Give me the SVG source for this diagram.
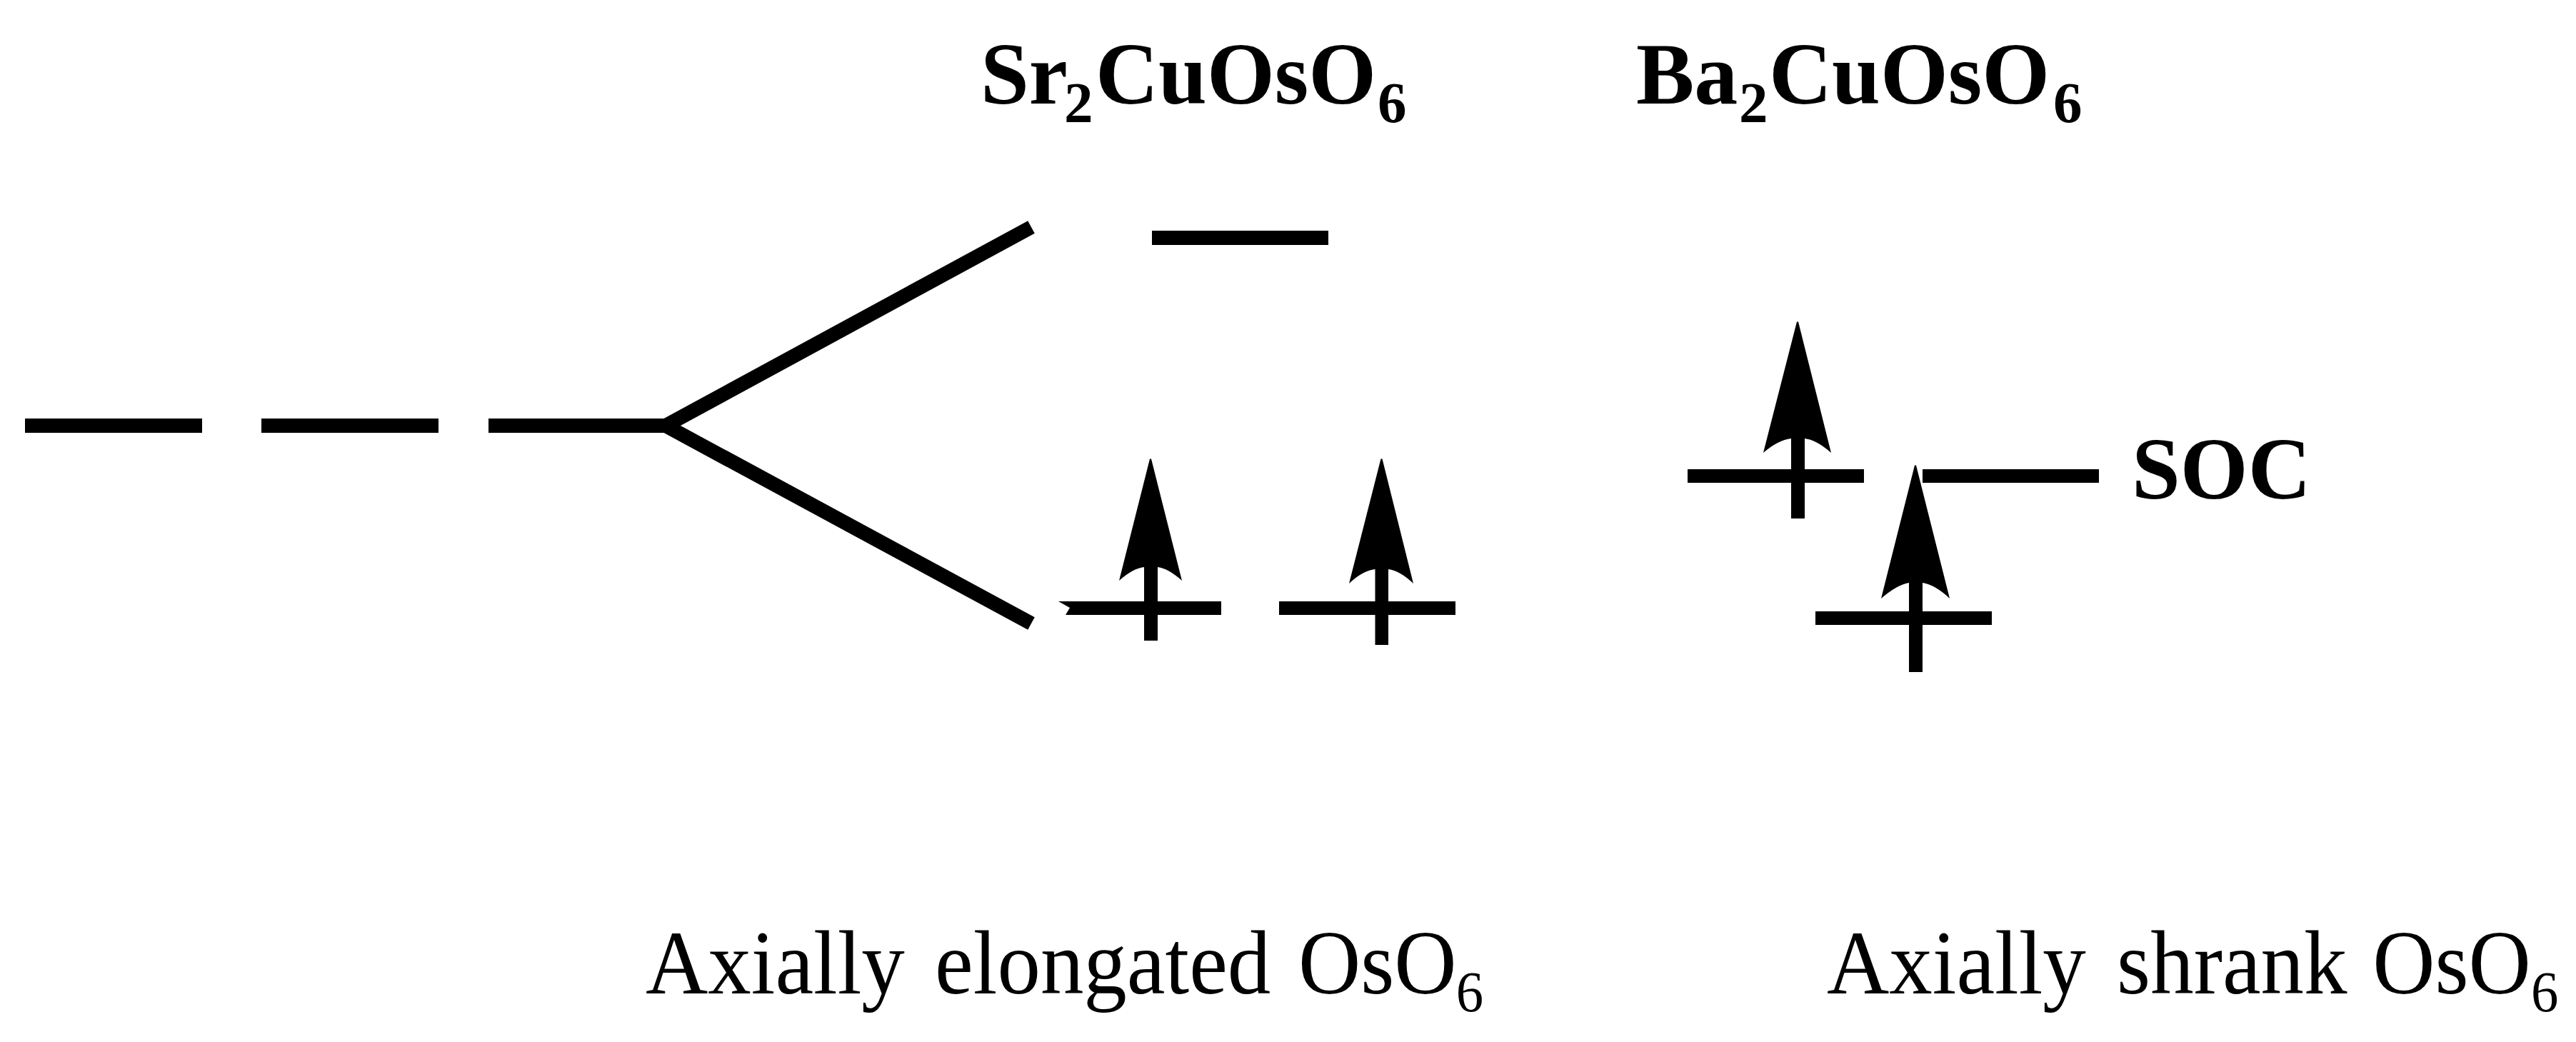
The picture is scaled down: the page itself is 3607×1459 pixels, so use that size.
<svg xmlns="http://www.w3.org/2000/svg" width="3607" height="1459" viewBox="0 0 3607 1459">
<style>
.lv,.ar{fill:#000}
.ln{stroke:#000;stroke-width:20;fill:none;stroke-linejoin:bevel}
text{font-family:"Liberation Serif","Times New Roman",serif;fill:#000}
.h{font-weight:bold;font-size:122px}
.hs{font-size:81px}
.c{font-size:126px}
.cs{font-size:80px}
</style>
<rect width="3607" height="1459" fill="#fff"/>
<g id="connectors">
<path class="ln" d="M1444,318 L932,596 L1444,873"/>
</g>
<g id="degenerate-levels">
<rect class="lv" x="35" y="586" width="248" height="20"/>
<rect class="lv" x="366" y="586" width="248" height="20"/>
<rect class="lv" x="684" y="586" width="248" height="20"/>
</g>
<g id="sr-upper-level"><rect class="lv" x="1613" y="323" width="247" height="20"/></g>
<g id="sr-lower-left">
<polygon class="lv" points="1482,842 1710,842 1710,861 1492,861 1498,851"/>
<path class="ar" d="M1610,642.500 H1612 L1655,813 Q1636,796 1621,794 V897 H1602 V794 Q1586,796 1567,813 Z"/>
</g>
<g id="sr-lower-right">
<rect class="lv" x="1791" y="842" width="247" height="19"/>
<path class="ar" d="M1933.500,642.500 H1935.500 L1979,817 Q1960,799 1944,797 V903 H1925.500 V797 Q1908,799 1889,817 Z"/>
</g>
<g id="ba-left">
<rect class="lv" x="2363" y="657" width="247" height="19"/>
<path class="ar" d="M2516,450.500 H2518 L2564,634 Q2544,616 2527,614 V726 H2508 V614 Q2490,616 2469,634 Z"/>
</g>
<g id="ba-right"><rect class="lv" x="2692" y="657" width="247" height="19"/></g>
<g id="ba-lower">
<rect class="lv" x="2542" y="856" width="247" height="19"/>
<path class="ar" d="M2681,651.500 H2683 L2730,838 Q2710,819 2692,816 V941 H2673 V816 Q2656,819 2634,838 Z"/>
</g>
<g id="label-sr">
<text class="h" x="1373" y="145">Sr<tspan class="hs" x="1490" y="171">2</tspan><tspan x="1534" y="145">CuOsO</tspan><tspan class="hs" x="1929" y="171">6</tspan></text>
</g>
<g id="label-ba">
<text class="h" x="2291" y="145">Ba<tspan class="hs" x="2435" y="171">2</tspan><tspan x="2477" y="145">CuOsO</tspan><tspan class="hs" x="2875" y="171">6</tspan></text>
</g>
<g id="label-soc"><text class="h" x="2985" y="698">SOC</text></g>
<g id="label-elongated">
<text class="c" transform="translate(904,1391) scale(.96,1)" x="0" y="0">Axially <tspan x="422" y="0">elongated</tspan> <tspan x="952" y="0">OsO</tspan><tspan class="cs" x="1182" y="25">6</tspan></text>
</g>
<g id="label-shrank">
<text class="c" transform="translate(2558,1391) scale(.96,1)" x="0" y="0">Axially <tspan x="423" y="0">shrank</tspan> <tspan x="796" y="0">OsO</tspan><tspan class="cs" x="1027" y="25">6</tspan></text>
</g>
</svg>
